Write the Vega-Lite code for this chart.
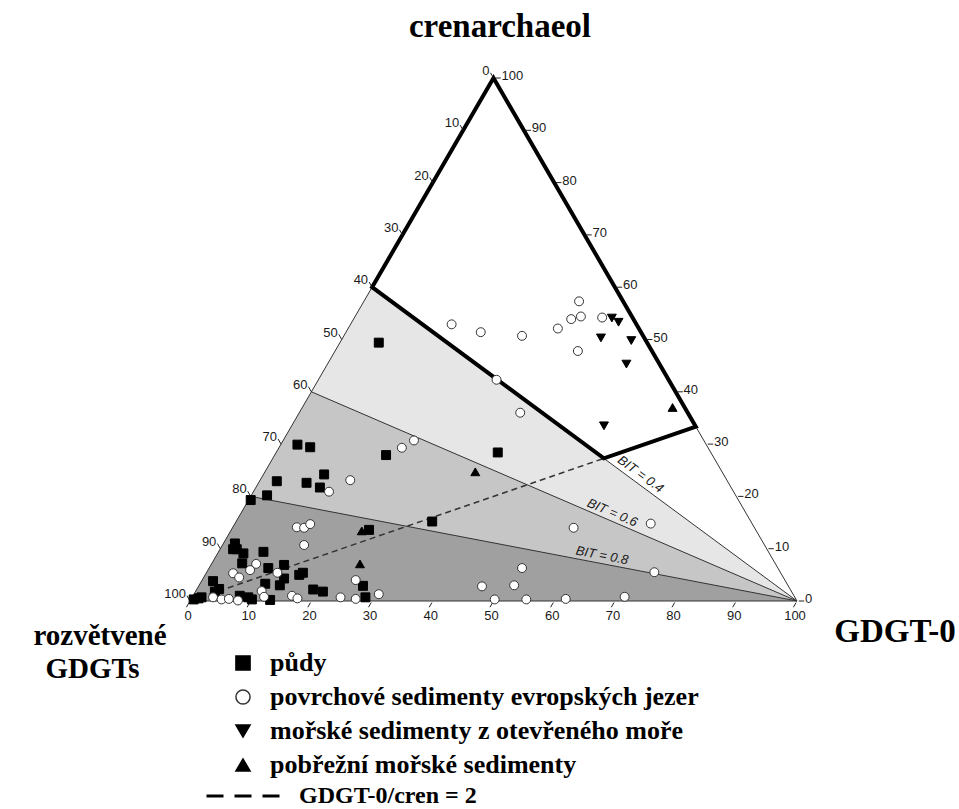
{
  "$schema": "https://vega.github.io/schema/vega-lite/v6.json",
  "width": 607,
  "height": 523,
  "autosize": {"type": "none"},
  "padding": {"left": 190, "top": 78, "right": 162, "bottom": 208},
  "background": "white",
  "config": {
    "view": {"stroke": null},
    "text": {"font": "Liberation Sans"},
    "legend": {
      "orient": "none",
      "padding": 0,
      "labelFont": "Liberation Serif",
      "labelFontSize": 26,
      "labelFontWeight": "bold",
      "labelColor": "black",
      "labelLimit": 1000,
      "labelOffset": 14,
      "symbolStrokeColor": "black",
      "symbolStrokeWidth": 1.5,
      "symbolOpacity": 1,
      "rowPadding": 8
    }
  },
  "datasets": {
    "pts": [
      {"typ": "půdy", "x": 31.1, "y": 49.4},
      {"typ": "půdy", "x": 17.7, "y": 29.9},
      {"typ": "půdy", "x": 19.8, "y": 29.4},
      {"typ": "půdy", "x": 32.3, "y": 27.9},
      {"typ": "půdy", "x": 50.7, "y": 28.4},
      {"typ": "půdy", "x": 22.1, "y": 24.2},
      {"typ": "půdy", "x": 14.3, "y": 22.9},
      {"typ": "půdy", "x": 19.2, "y": 22.6},
      {"typ": "půdy", "x": 21.4, "y": 21.7},
      {"typ": "půdy", "x": 12.7, "y": 20.2},
      {"typ": "půdy", "x": 10.0, "y": 19.3},
      {"typ": "půdy", "x": 39.9, "y": 15.2},
      {"typ": "půdy", "x": 29.5, "y": 13.6},
      {"typ": "půdy", "x": 7.4, "y": 11.0},
      {"typ": "půdy", "x": 7.7, "y": 9.9},
      {"typ": "půdy", "x": 8.8, "y": 9.1},
      {"typ": "půdy", "x": 12.1, "y": 9.4},
      {"typ": "půdy", "x": 8.6, "y": 7.2},
      {"typ": "půdy", "x": 12.9, "y": 6.3},
      {"typ": "půdy", "x": 15.5, "y": 6.9},
      {"typ": "půdy", "x": 15.5, "y": 4.3},
      {"typ": "půdy", "x": 14.8, "y": 3.0},
      {"typ": "půdy", "x": 18.0, "y": 5.0},
      {"typ": "půdy", "x": 18.6, "y": 5.4},
      {"typ": "půdy", "x": 12.4, "y": 3.3},
      {"typ": "půdy", "x": 3.8, "y": 3.8},
      {"typ": "půdy", "x": 4.8, "y": 2.3},
      {"typ": "půdy", "x": 4.1, "y": 1.8},
      {"typ": "půdy", "x": 0.6, "y": 0.3},
      {"typ": "půdy", "x": 1.4, "y": 0.5},
      {"typ": "půdy", "x": 1.9, "y": 0.7},
      {"typ": "půdy", "x": 8.2, "y": 1.0},
      {"typ": "půdy", "x": 9.6, "y": 0.7},
      {"typ": "půdy", "x": 10.2, "y": 0.3},
      {"typ": "půdy", "x": 13.2, "y": 0.2},
      {"typ": "půdy", "x": 20.3, "y": 2.2},
      {"typ": "půdy", "x": 21.9, "y": 1.8},
      {"typ": "půdy", "x": 28.5, "y": 2.9},
      {"typ": "půdy", "x": 28.9, "y": 0.7},
      {"typ": "půdy", "x": 7.1, "y": 9.9},
      {"typ": "povrchové sedimenty evropských jezer", "x": 43.1, "y": 52.9},
      {"typ": "povrchové sedimenty evropských jezer", "x": 47.9, "y": 51.4},
      {"typ": "povrchové sedimenty evropských jezer", "x": 54.7, "y": 50.7},
      {"typ": "povrchové sedimenty evropských jezer", "x": 60.6, "y": 52.1},
      {"typ": "povrchové sedimenty evropských jezer", "x": 62.8, "y": 53.9},
      {"typ": "povrchové sedimenty evropských jezer", "x": 64.4, "y": 54.4},
      {"typ": "povrchové sedimenty evropských jezer", "x": 64.1, "y": 57.3},
      {"typ": "povrchové sedimenty evropských jezer", "x": 67.9, "y": 54.2},
      {"typ": "povrchové sedimenty evropských jezer", "x": 63.9, "y": 47.8},
      {"typ": "povrchové sedimenty evropských jezer", "x": 50.5, "y": 42.3},
      {"typ": "povrchové sedimenty evropských jezer", "x": 54.4, "y": 36.0},
      {"typ": "povrchové sedimenty evropských jezer", "x": 36.9, "y": 30.7},
      {"typ": "povrchové sedimenty evropských jezer", "x": 34.9, "y": 29.3},
      {"typ": "povrchové sedimenty evropských jezer", "x": 26.4, "y": 23.1},
      {"typ": "povrchové sedimenty evropských jezer", "x": 22.9, "y": 20.9},
      {"typ": "povrchové sedimenty evropských jezer", "x": 63.2, "y": 14.0},
      {"typ": "povrchové sedimenty evropských jezer", "x": 75.9, "y": 14.8},
      {"typ": "povrchové sedimenty evropských jezer", "x": 76.5, "y": 5.5},
      {"typ": "povrchové sedimenty evropských jezer", "x": 54.7, "y": 6.3},
      {"typ": "povrchové sedimenty evropských jezer", "x": 48.1, "y": 2.8},
      {"typ": "povrchové sedimenty evropských jezer", "x": 53.4, "y": 3.0},
      {"typ": "povrchové sedimenty evropských jezer", "x": 50.2, "y": 0.3},
      {"typ": "povrchové sedimenty evropských jezer", "x": 55.4, "y": 0.3},
      {"typ": "povrchové sedimenty evropských jezer", "x": 61.9, "y": 0.4},
      {"typ": "povrchové sedimenty evropských jezer", "x": 71.6, "y": 0.8},
      {"typ": "povrchové sedimenty evropských jezer", "x": 17.6, "y": 14.1},
      {"typ": "povrchové sedimenty evropských jezer", "x": 18.8, "y": 14.0},
      {"typ": "povrchové sedimenty evropských jezer", "x": 19.8, "y": 14.7},
      {"typ": "povrchové sedimenty evropských jezer", "x": 18.8, "y": 10.7},
      {"typ": "povrchové sedimenty evropských jezer", "x": 10.9, "y": 7.1},
      {"typ": "povrchové sedimenty evropských jezer", "x": 9.9, "y": 5.9},
      {"typ": "povrchové sedimenty evropských jezer", "x": 7.1, "y": 5.3},
      {"typ": "povrchové sedimenty evropských jezer", "x": 8.1, "y": 4.5},
      {"typ": "povrchové sedimenty evropských jezer", "x": 14.4, "y": 5.4},
      {"typ": "povrchové sedimenty evropských jezer", "x": 3.8, "y": 0.7},
      {"typ": "povrchové sedimenty evropských jezer", "x": 5.2, "y": 0.3},
      {"typ": "povrchové sedimenty evropských jezer", "x": 6.4, "y": 0.4},
      {"typ": "povrchové sedimenty evropských jezer", "x": 7.9, "y": 0.1},
      {"typ": "povrchové sedimenty evropských jezer", "x": 11.8, "y": 1.9},
      {"typ": "povrchové sedimenty evropských jezer", "x": 12.2, "y": 0.8},
      {"typ": "povrchové sedimenty evropských jezer", "x": 16.8, "y": 1.0},
      {"typ": "povrchové sedimenty evropských jezer", "x": 17.7, "y": 0.5},
      {"typ": "povrchové sedimenty evropských jezer", "x": 24.8, "y": 0.7},
      {"typ": "povrchové sedimenty evropských jezer", "x": 27.3, "y": 4.0},
      {"typ": "povrchové sedimenty evropských jezer", "x": 27.3, "y": 0.4},
      {"typ": "povrchové sedimenty evropských jezer", "x": 31.1, "y": 1.3},
      {"typ": "mořské sedimenty z otevřeného moře", "x": 69.5, "y": 54.1},
      {"typ": "mořské sedimenty z otevřeného moře", "x": 70.6, "y": 53.3},
      {"typ": "mořské sedimenty z otevřeného moře", "x": 67.7, "y": 50.3},
      {"typ": "mořské sedimenty z otevřeného moře", "x": 72.7, "y": 49.8},
      {"typ": "mořské sedimenty z otevřeného moře", "x": 71.9, "y": 45.3},
      {"typ": "mořské sedimenty z otevřeného moře", "x": 68.2, "y": 33.5},
      {"typ": "pobřežní mořské sedimenty", "x": 79.5, "y": 37.0},
      {"typ": "pobřežní mořské sedimenty", "x": 47.0, "y": 24.7},
      {"typ": "pobřežní mořské sedimenty", "x": 28.3, "y": 13.4},
      {"typ": "pobřežní mořské sedimenty", "x": 28.0, "y": 7.1}
    ],
    "leftAxis": [
      {"label": "0", "x": 50, "y": 100}, {"label": "10", "x": 45, "y": 90},
      {"label": "20", "x": 40, "y": 80}, {"label": "30", "x": 35, "y": 70},
      {"label": "40", "x": 30, "y": 60}, {"label": "50", "x": 25, "y": 50},
      {"label": "60", "x": 20, "y": 40}, {"label": "70", "x": 15, "y": 30},
      {"label": "80", "x": 10, "y": 20}, {"label": "90", "x": 5, "y": 10},
      {"label": "100", "x": 0, "y": 0}
    ],
    "rightAxis": [
      {"label": "0", "x": 100, "y": 0}, {"label": "10", "x": 95, "y": 10},
      {"label": "20", "x": 90, "y": 20}, {"label": "30", "x": 85, "y": 30},
      {"label": "40", "x": 80, "y": 40}, {"label": "50", "x": 75, "y": 50},
      {"label": "60", "x": 70, "y": 60}, {"label": "70", "x": 65, "y": 70},
      {"label": "80", "x": 60, "y": 80}, {"label": "90", "x": 55, "y": 90},
      {"label": "100", "x": 50, "y": 100}
    ],
    "bottomAxis": [
      {"label": "0", "x": 0, "y": 0}, {"label": "10", "x": 10, "y": 0},
      {"label": "20", "x": 20, "y": 0}, {"label": "30", "x": 30, "y": 0},
      {"label": "40", "x": 40, "y": 0}, {"label": "50", "x": 50, "y": 0},
      {"label": "60", "x": 60, "y": 0}, {"label": "70", "x": 70, "y": 0},
      {"label": "80", "x": 80, "y": 0}, {"label": "90", "x": 90, "y": 0},
      {"label": "100", "x": 100, "y": 0}
    ]
  },
  "layer": [
    {
      "data": {"values": [{"x": 0, "y": 0}, {"x": 30, "y": 60}, {"x": 100, "y": 0}]},
      "mark": {"type": "area", "color": "#e6e6e6", "opacity": 1},
      "encoding": {
        "x": {"field": "x", "type": "quantitative", "scale": {"domain": [0, 100], "nice": false, "zero": false}, "axis": null},
        "y": {"field": "y", "type": "quantitative", "scale": {"domain": [0, 100], "nice": false, "zero": false}, "axis": null, "stack": null},
        "y2": {"datum": 0}
      }
    },
    {
      "data": {"values": [{"x": 0, "y": 0}, {"x": 20, "y": 40}, {"x": 100, "y": 0}]},
      "mark": {"type": "area", "color": "#c6c6c6", "opacity": 1},
      "encoding": {
        "x": {"field": "x", "type": "quantitative", "scale": {"domain": [0, 100], "nice": false, "zero": false}, "axis": null},
        "y": {"field": "y", "type": "quantitative", "scale": {"domain": [0, 100], "nice": false, "zero": false}, "axis": null, "stack": null},
        "y2": {"datum": 0}
      }
    },
    {
      "data": {"values": [{"x": 0, "y": 0}, {"x": 10, "y": 20}, {"x": 100, "y": 0}]},
      "mark": {"type": "area", "color": "#a0a0a0", "opacity": 1},
      "encoding": {
        "x": {"field": "x", "type": "quantitative", "scale": {"domain": [0, 100], "nice": false, "zero": false}, "axis": null},
        "y": {"field": "y", "type": "quantitative", "scale": {"domain": [0, 100], "nice": false, "zero": false}, "axis": null, "stack": null},
        "y2": {"datum": 0}
      }
    },
    {
      "data": {"values": [
        {"x": 0, "y": 0, "x2": 100, "y2": 0},
        {"x": 0, "y": 0, "x2": 30, "y2": 60},
        {"x": 83.333, "y": 33.333, "x2": 100, "y2": 0},
        {"x": 30, "y": 60, "x2": 100, "y2": 0},
        {"x": 20, "y": 40, "x2": 100, "y2": 0},
        {"x": 10, "y": 20, "x2": 100, "y2": 0}
      ]},
      "mark": {"type": "rule", "color": "#333333", "strokeWidth": 1},
      "encoding": {
        "x": {"field": "x", "type": "quantitative", "scale": {"domain": [0, 100], "nice": false, "zero": false}, "axis": null},
        "y": {"field": "y", "type": "quantitative", "scale": {"domain": [0, 100], "nice": false, "zero": false}, "axis": null},
        "x2": {"field": "x2"},
        "y2": {"field": "y2"}
      }
    },
    {
      "data": {"values": [
        {"x": 0, "y": 0},
        {"x": 68.182, "y": 27.273}
      ]},
      "mark": {"type": "line", "color": "#333333", "strokeWidth": 1.5, "strokeDash": [6, 4]},
      "encoding": {
        "x": {"field": "x", "type": "quantitative", "scale": {"domain": [0, 100], "nice": false, "zero": false}, "axis": null},
        "y": {"field": "y", "type": "quantitative", "scale": {"domain": [0, 100], "nice": false, "zero": false}, "axis": null}
      }
    },
    {
      "data": {"values": [{"s": "GDGT-0/cren = 2"}]},
      "mark": {"type": "rule", "opacity": 0, "color": "black"},
      "encoding": {
        "x": {"datum": 0, "type": "quantitative", "scale": {"domain": [0, 100], "nice": false, "zero": false}, "axis": null},
        "y": {"datum": 0, "type": "quantitative", "scale": {"domain": [0, 100], "nice": false, "zero": false}, "axis": null},
        "x2": {"datum": 0},
        "y2": {"datum": 0},
        "strokeDash": {
          "field": "s", "type": "nominal",
          "scale": {"domain": ["GDGT-0/cren = 2"], "range": [[17, 11]]},
          "legend": {
            "title": null, "legendX": 15, "legendY": 680,
            "symbolType": "stroke", "symbolSize": 5329, "symbolStrokeWidth": 3,
            "symbolStrokeColor": "black", "labelOffset": 18, "labelFontSize": 24
          }
        }
      }
    },
    {
      "data": {"values": [
        {"i": 0, "x": 50, "y": 100},
        {"i": 1, "x": 83.333, "y": 33.333},
        {"i": 2, "x": 68.182, "y": 27.273},
        {"i": 3, "x": 30, "y": 60},
        {"i": 4, "x": 50, "y": 100},
        {"i": 5, "x": 83.333, "y": 33.333}
      ]},
      "mark": {"type": "line", "color": "black", "strokeWidth": 4, "strokeJoin": "miter"},
      "encoding": {
        "x": {"field": "x", "type": "quantitative", "scale": {"domain": [0, 100], "nice": false, "zero": false}, "axis": null},
        "y": {"field": "y", "type": "quantitative", "scale": {"domain": [0, 100], "nice": false, "zero": false}, "axis": null},
        "order": {"field": "i", "type": "quantitative"}
      }
    },
    {
      "data": {"name": "leftAxis"},
      "mark": {"type": "point", "shape": "M0,0L-0.5,-0.866", "size": 144, "filled": false, "stroke": "#222222", "strokeWidth": 1, "opacity": 1},
      "encoding": {
        "x": {"field": "x", "type": "quantitative", "scale": {"domain": [0, 100], "nice": false, "zero": false}, "axis": null},
        "y": {"field": "y", "type": "quantitative", "scale": {"domain": [0, 100], "nice": false, "zero": false}, "axis": null}
      }
    },
    {
      "data": {"name": "rightAxis"},
      "mark": {"type": "point", "shape": "M0.3,0L1.2,0", "size": 144, "filled": false, "stroke": "#222222", "strokeWidth": 1, "opacity": 1},
      "encoding": {
        "x": {"field": "x", "type": "quantitative", "scale": {"domain": [0, 100], "nice": false, "zero": false}, "axis": null},
        "y": {"field": "y", "type": "quantitative", "scale": {"domain": [0, 100], "nice": false, "zero": false}, "axis": null}
      }
    },
    {
      "data": {"name": "bottomAxis"},
      "mark": {"type": "point", "shape": "M-0.15,0.26L-0.6,1.04", "size": 144, "filled": false, "stroke": "#222222", "strokeWidth": 1, "opacity": 1},
      "encoding": {
        "x": {"field": "x", "type": "quantitative", "scale": {"domain": [0, 100], "nice": false, "zero": false}, "axis": null},
        "y": {"field": "y", "type": "quantitative", "scale": {"domain": [0, 100], "nice": false, "zero": false}, "axis": null}
      }
    },
    {
      "data": {"name": "leftAxis"},
      "mark": {"type": "text", "align": "right", "baseline": "alphabetic", "dx": -4, "dy": -3, "fontSize": 13, "color": "#1a1a1a"},
      "encoding": {
        "x": {"field": "x", "type": "quantitative", "scale": {"domain": [0, 100], "nice": false, "zero": false}, "axis": null},
        "y": {"field": "y", "type": "quantitative", "scale": {"domain": [0, 100], "nice": false, "zero": false}, "axis": null},
        "text": {"field": "label"}
      }
    },
    {
      "data": {"name": "rightAxis"},
      "mark": {"type": "text", "align": "left", "baseline": "middle", "dx": 8, "dy": -2, "fontSize": 13, "color": "#1a1a1a"},
      "encoding": {
        "x": {"field": "x", "type": "quantitative", "scale": {"domain": [0, 100], "nice": false, "zero": false}, "axis": null},
        "y": {"field": "y", "type": "quantitative", "scale": {"domain": [0, 100], "nice": false, "zero": false}, "axis": null},
        "text": {"field": "label"}
      }
    },
    {
      "data": {"name": "bottomAxis"},
      "mark": {"type": "text", "align": "center", "baseline": "top", "dx": -2, "dy": 9, "fontSize": 13, "color": "#1a1a1a"},
      "encoding": {
        "x": {"field": "x", "type": "quantitative", "scale": {"domain": [0, 100], "nice": false, "zero": false}, "axis": null},
        "y": {"field": "y", "type": "quantitative", "scale": {"domain": [0, 100], "nice": false, "zero": false}, "axis": null},
        "text": {"field": "label"}
      }
    },
    {
      "data": {"values": [{"t": "BIT = 0.4", "x": 73.36, "y": 22.83}]},
      "mark": {"type": "text", "angle": 36.3, "align": "center", "baseline": "bottom", "dy": -2, "fontSize": 13, "fontStyle": "italic", "color": "#1a1a1a"},
      "encoding": {
        "x": {"field": "x", "type": "quantitative", "scale": {"domain": [0, 100], "nice": false, "zero": false}, "axis": null},
        "y": {"field": "y", "type": "quantitative", "scale": {"domain": [0, 100], "nice": false, "zero": false}, "axis": null},
        "text": {"field": "t"}
      }
    },
    {
      "data": {"values": [{"t": "BIT = 0.6", "x": 69.05, "y": 15.47}]},
      "mark": {"type": "text", "angle": 23.3, "align": "center", "baseline": "bottom", "dy": -1, "fontSize": 13, "fontStyle": "italic", "color": "#1a1a1a"},
      "encoding": {
        "x": {"field": "x", "type": "quantitative", "scale": {"domain": [0, 100], "nice": false, "zero": false}, "axis": null},
        "y": {"field": "y", "type": "quantitative", "scale": {"domain": [0, 100], "nice": false, "zero": false}, "axis": null},
        "text": {"field": "t"}
      }
    },
    {
      "data": {"values": [{"t": "BIT = 0.8", "x": 67.63, "y": 7.19}]},
      "mark": {"type": "text", "angle": 10.8, "align": "center", "baseline": "bottom", "dy": -1, "fontSize": 13, "fontStyle": "italic", "color": "#1a1a1a"},
      "encoding": {
        "x": {"field": "x", "type": "quantitative", "scale": {"domain": [0, 100], "nice": false, "zero": false}, "axis": null},
        "y": {"field": "y", "type": "quantitative", "scale": {"domain": [0, 100], "nice": false, "zero": false}, "axis": null},
        "text": {"field": "t"}
      }
    },
    {
      "data": {"name": "pts"},
      "mark": {"type": "point", "filled": true, "size": 80, "strokeWidth": 1, "opacity": 1},
      "encoding": {
        "x": {"field": "x", "type": "quantitative", "scale": {"domain": [0, 100], "nice": false, "zero": false}, "axis": null},
        "y": {"field": "y", "type": "quantitative", "scale": {"domain": [0, 100], "nice": false, "zero": false}, "axis": null},
        "shape": {
          "field": "typ", "type": "nominal",
          "scale": {"domain": ["půdy", "povrchové sedimenty evropských jezer", "mořské sedimenty z otevřeného moře", "pobřežní mořské sedimenty"], "range": ["square", "circle", "triangle-down", "triangle-up"]},
          "legend": {"title": null, "legendX": 40, "legendY": 572, "symbolSize": 200}
        },
        "fill": {
          "field": "typ", "type": "nominal",
          "scale": {"domain": ["půdy", "povrchové sedimenty evropských jezer", "mořské sedimenty z otevřeného moře", "pobřežní mořské sedimenty"], "range": ["black", "white", "black", "black"]},
          "legend": {"title": null, "legendX": 40, "legendY": 572, "symbolSize": 200}
        },
        "stroke": {
          "field": "typ", "type": "nominal",
          "scale": {"domain": ["půdy", "povrchové sedimenty evropských jezer", "mořské sedimenty z otevřeného moře", "pobřežní mořské sedimenty"], "range": ["black", "#333333", "black", "black"]},
          "legend": {"title": null, "legendX": 40, "legendY": 572, "symbolSize": 200}
        }
      }
    },
    {
      "data": {"values": [{}]},
      "mark": {"type": "text", "text": "crenarchaeol", "font": "Liberation Serif", "fontWeight": "bold", "fontSize": 33, "align": "center", "baseline": "alphabetic", "color": "black"},
      "encoding": {
        "x": {"datum": 51.07, "type": "quantitative", "scale": {"domain": [0, 100], "nice": false, "zero": false}, "axis": null},
        "y": {"datum": 107.9, "type": "quantitative", "scale": {"domain": [0, 100], "nice": false, "zero": false}, "axis": null}
      }
    },
    {
      "data": {"values": [{}]},
      "mark": {"type": "text", "text": "GDGT-0", "font": "Liberation Serif", "fontWeight": "bold", "fontSize": 33, "align": "center", "baseline": "alphabetic", "color": "black"},
      "encoding": {
        "x": {"datum": 116.15, "type": "quantitative", "scale": {"domain": [0, 100], "nice": false, "zero": false}, "axis": null},
        "y": {"datum": -7.78, "type": "quantitative", "scale": {"domain": [0, 100], "nice": false, "zero": false}, "axis": null}
      }
    },
    {
      "data": {"values": [{}]},
      "mark": {"type": "text", "text": "rozvětvené", "font": "Liberation Serif", "fontWeight": "bold", "fontSize": 29, "align": "center", "baseline": "alphabetic", "color": "black"},
      "encoding": {
        "x": {"datum": -14.83, "type": "quantitative", "scale": {"domain": [0, 100], "nice": false, "zero": false}, "axis": null},
        "y": {"datum": -8.41, "type": "quantitative", "scale": {"domain": [0, 100], "nice": false, "zero": false}, "axis": null}
      }
    },
    {
      "data": {"values": [{}]},
      "mark": {"type": "text", "text": "GDGTs", "font": "Liberation Serif", "fontWeight": "bold", "fontSize": 29, "align": "center", "baseline": "alphabetic", "color": "black"},
      "encoding": {
        "x": {"datum": -16.06, "type": "quantitative", "scale": {"domain": [0, 100], "nice": false, "zero": false}, "axis": null},
        "y": {"datum": -14.72, "type": "quantitative", "scale": {"domain": [0, 100], "nice": false, "zero": false}, "axis": null}
      }
    }
  ]
}
